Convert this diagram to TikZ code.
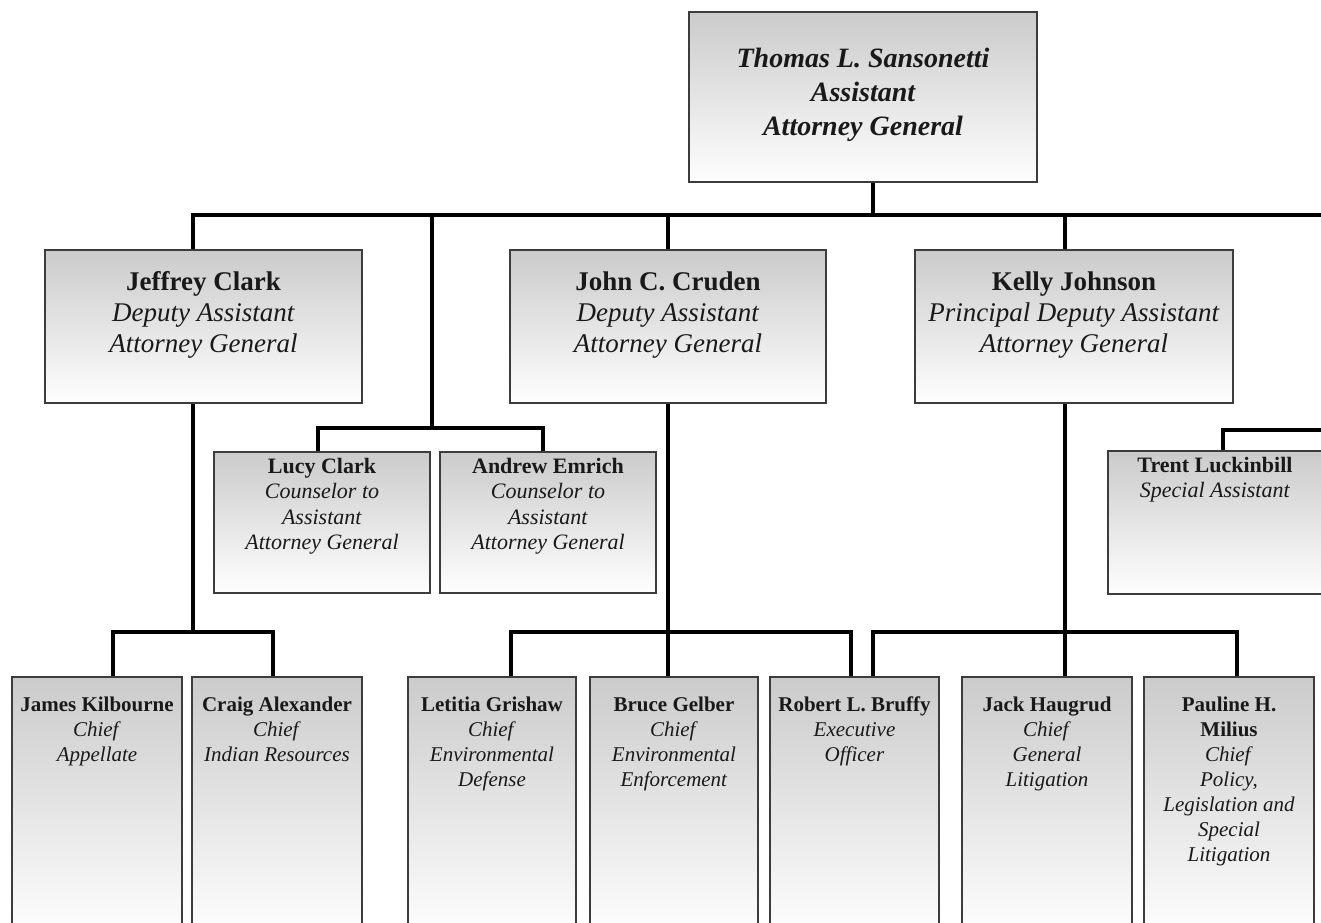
\documentclass[tikz,border=0pt]{standalone}
\usepackage{fontspec}
\setmainfont{Liberation Serif}
\usetikzlibrary{fit}
\definecolor{boxline}{RGB}{60,60,60}
\definecolor{gtop}{RGB}{203,203,203}
\definecolor{gbot}{RGB}{254,254,254}
\definecolor{txt}{RGB}{25,25,25}
\pgfdeclarelayer{bg}
\pgfsetlayers{bg,main}
\begin{document}
\begin{tikzpicture}[x=1pt,y=-1pt,
  box/.style={draw=boxline, line width=1.6pt, top color=gtop, bottom color=gbot, inner sep=0pt, outer sep=0pt},
  conn/.style={line width=4pt, draw=black, line join=miter},
  ttop/.style={anchor=north, align=center, inner sep=0pt, text=txt, font=\fontsize{28}{34}\selectfont\bfseries\itshape},
  tmid/.style={anchor=north, align=center, inner sep=0pt, text=txt, font=\fontsize{27}{31}\selectfont},
  tcou/.style={anchor=north, align=center, inner sep=0pt, text=txt, font=\fontsize{22}{25.5}\selectfont},
  tlow/.style={anchor=north, align=center, inner sep=0pt, text=txt, font=\fontsize{21}{25}\selectfont}
]
\useasboundingbox (0,0) rectangle (1321,922);
\clip (0,0) rectangle (1321,922);

% boxes
\node[box, fit={(689,12)(1037,182)}] (top) {};
\node[box, fit={(45,250)(362,403)}] (jc) {};
\node[box, fit={(510,250)(826,403)}] (jcr) {};
\node[box, fit={(915,250)(1233,403)}] (kj) {};
\node[box, fit={(214,452)(430,593)}] (lc) {};
\node[box, fit={(440,452)(656,593)}] (ae) {};
\node[box, fit={(1108,451)(1326,594)}] (tl) {};
\node[box, fit={(12,677)(182,935)}] (jk) {};
\node[box, fit={(192,677)(362,935)}] (ca) {};
\node[box, fit={(408,677)(576,935)}] (lg) {};
\node[box, fit={(590,677)(758,935)}] (bg) {};
\node[box, fit={(770,677)(939,935)}] (rb) {};
\node[box, fit={(962,677)(1132,935)}] (jh) {};
\node[box, fit={(1144,677)(1314,935)}] (ph) {};

% texts
\node[ttop] (top-t) at ([yshift=-31pt]top.north) {\strut Thomas L. Sansonetti\\Assistant\\Attorney General};
\node[tmid] (jc-t) at ([yshift=-19pt]jc.north) {\strut\textbf{Jeffrey Clark}\\\textit{Deputy Assistant}\\\textit{Attorney General}};
\node[tmid] (jcr-t) at ([yshift=-19pt]jcr.north) {\strut\textbf{John C. Cruden}\\\textit{Deputy Assistant}\\\textit{Attorney General}};
\node[tmid] (kj-t) at ([yshift=-19pt]kj.north) {\strut\textbf{Kelly Johnson}\\\textit{Principal Deputy Assistant}\\\textit{Attorney General}};
\node[tcou] (lc-t) at ([yshift=-3pt]lc.north) {\strut\textbf{Lucy Clark}\\\textit{Counselor to}\\\textit{Assistant}\\\textit{Attorney General}};
\node[tcou] (ae-t) at ([yshift=-3pt]ae.north) {\strut\textbf{Andrew Emrich}\\\textit{Counselor to}\\\textit{Assistant}\\\textit{Attorney General}};
\node[tcou] (tl-t) at ([xshift=-2pt,yshift=-3pt]tl.north) {\strut\textbf{Trent Luckinbill}\\\textit{Special Assistant}};
\node[tlow] (jk-t) at ([yshift=-17pt]jk.north) {\strut\textbf{James Kilbourne}\\\textit{Chief}\\\textit{Appellate}};
\node[tlow] (ca-t) at ([yshift=-17pt]ca.north) {\strut\textbf{Craig Alexander}\\\textit{Chief}\\\textit{Indian Resources}};
\node[tlow] (lg-t) at ([yshift=-17pt]lg.north) {\strut\textbf{Letitia Grishaw}\\\textit{Chief}\\\textit{Environmental}\\\textit{Defense}};
\node[tlow] (bg-t) at ([yshift=-17pt]bg.north) {\strut\textbf{Bruce Gelber}\\\textit{Chief}\\\textit{Environmental}\\\textit{Enforcement}};
\node[tlow] (rb-t) at ([yshift=-17pt]rb.north) {\strut\textbf{Robert L. Bruffy}\\\textit{Executive}\\\textit{Officer}};
\node[tlow] (jh-t) at ([yshift=-17pt]jh.north) {\strut\textbf{Jack Haugrud}\\\textit{Chief}\\\textit{General}\\\textit{Litigation}};
\node[tlow] (ph-t) at ([yshift=-17pt]ph.north) {\strut\textbf{Pauline H.}\\\textbf{Milius}\\\textit{Chief}\\\textit{Policy,}\\\textit{Legislation and}\\\textit{Special}\\\textit{Litigation}};

% connector coordinates
\coordinate (hub) at (873,215);
\coordinate (barR) at (1340,215);
\coordinate (jcIn) at (193,250);
\coordinate (cnHub) at (432,215);
\coordinate (cnBar) at (432,428);
\coordinate (lcIn) at (318,452);
\coordinate (aeIn) at (543,452);
\coordinate (jcrIn) at (668,250);
\coordinate (kjIn) at (1065,250);
\coordinate (jcOut) at (193,403);
\coordinate (jcBar) at (193,632);
\coordinate (jkIn) at (113,677);
\coordinate (caIn) at (273,677);
\coordinate (jcrOut) at (668,403);
\coordinate (crBar) at (668,632);
\coordinate (bgIn) at (668,677);
\coordinate (lgIn) at (511,677);
\coordinate (rbInL) at (851,677);
\coordinate (rbInR) at (873,677);
\coordinate (kjOut) at (1065,403);
\coordinate (kjBar) at (1065,632);
\coordinate (jhIn) at (1065,677);
\coordinate (phIn) at (1237,677);
\coordinate (tlIn) at (1223,451);
\coordinate (tlBarR) at (1340,430);

\begin{pgfonlayer}{bg}
\draw[conn] (top.south -| hub) -- (hub);
\draw[conn] (jcIn) |- (barR);
\draw[conn] (cnHub) -- (cnBar);
\draw[conn] (lcIn) |- (cnBar) -| (aeIn);
\draw[conn] (jcrIn |- hub) -- (jcrIn);
\draw[conn] (kjIn |- hub) -- (kjIn);
\draw[conn] (jcOut) -- (jcBar);
\draw[conn] (jkIn) |- (jcBar) -| (caIn);
\draw[conn] (jcrOut) -- (bgIn);
\draw[conn] (lgIn) |- (crBar) -| (rbInL);
\draw[conn] (kjOut) -- (jhIn);
\draw[conn] (rbInR) |- (kjBar) -| (phIn);
\draw[conn] (tlIn) |- (tlBarR);
\end{pgfonlayer}
\end{tikzpicture}
\end{document}
